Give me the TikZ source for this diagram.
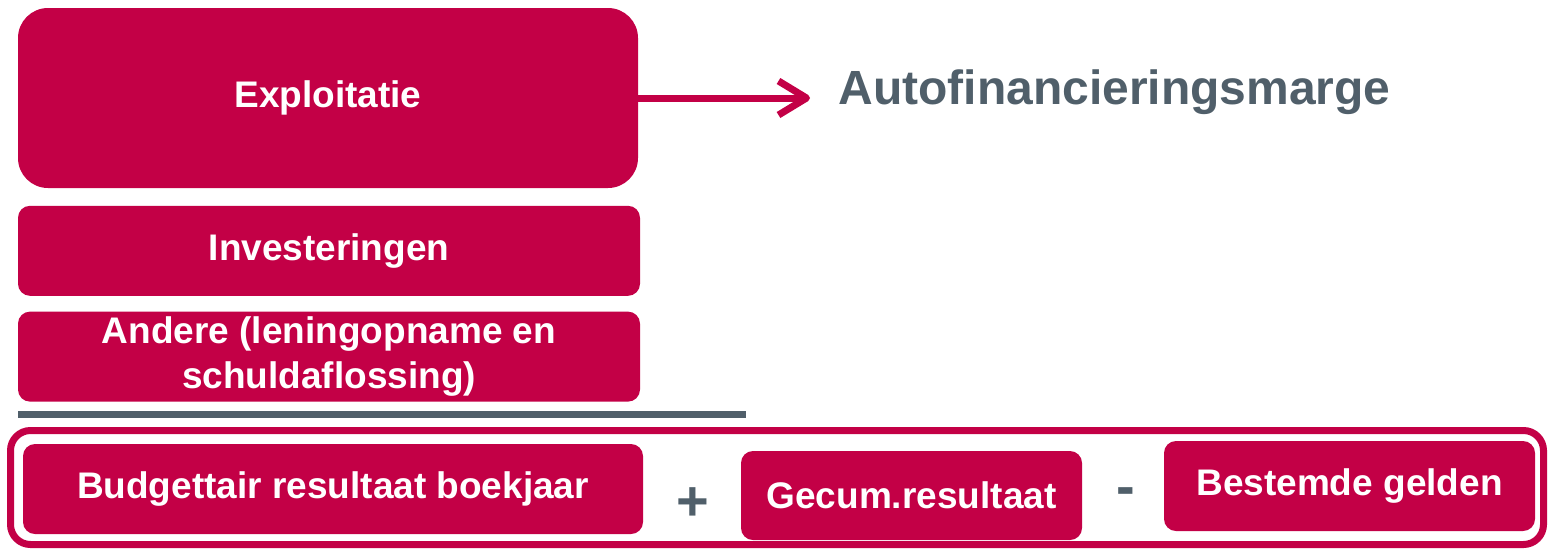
\documentclass[tikz,border=0pt]{standalone}
\usepackage{fontspec}
\setmainfont{Liberation Sans}
\usepackage{tikz}
\usetikzlibrary{positioning}
\usetikzlibrary{arrows.meta}

\definecolor{boxred}{RGB}{195,0,70}
\definecolor{slate}{RGB}{80,95,106}

\tikzset{
  redbox/.style={rectangle,fill=boxred,text=white,font=\fontsize{18.5}{22.5}\selectfont\bfseries,
    align=center,inner sep=0pt,rounded corners=6pt},
  signtext/.style={text=slate,font=\fontsize{28}{30}\selectfont\bfseries,inner sep=0pt}
}

\begin{document}
\begin{tikzpicture}[x=0.5pt,y=-0.5pt,node distance=8pt]
  \useasboundingbox (0,0) rectangle (1548,548);
  \node (expl) [redbox,minimum width=310pt,minimum height=90pt,rounded corners=15pt] at (328,98) {Exploitatie};
  \node (inv) [redbox,minimum width=311pt,minimum height=45pt,below=8.5pt of expl.south west,anchor=north west] {Investeringen};
  \node (andere) [redbox,minimum width=311pt,minimum height=45pt,below=7.5pt of inv] {Andere (leningopname en\\schuldaflossing)};
  \node (marge) [anchor=west,text=slate,font=\fontsize{24}{28}\selectfont\bfseries,inner sep=0pt] at (838,92) {Autofinancieringsmarge};
  \coordinate (tip) at (810,98);
  \coordinate (ruleL) at (18,414);
  \coordinate (ruleR) at (746,414);
  \draw[slate,line width=3.5pt] (ruleL) -- (ruleR);
  \draw[boxred,line width=3.5pt,rounded corners=10pt] (10.5,430.5) rectangle (1543.5,544.5);
  \node (budget) [redbox,minimum width=310pt,minimum height=45pt] at (333,489) {Budgettair resultaat boekjaar};
  \node (gecum) [redbox,minimum width=170.5pt,minimum height=44.5pt] at (911.5,495.5) {Gecum.resultaat};
  \node (bestemd) [redbox,minimum width=185.5pt,minimum height=45pt] at (1349.5,486) {Bestemde gelden};
  \node (plus) [signtext] at (693,504) {+};
  \node (minus) [signtext] at (1125.5,497) {-};
\path[boxred,line width=3.5pt,line cap=round,-{Straight Barb[length=14pt,width=17pt,line join=round]}]
	  (expl.east) edge (tip);
\end{tikzpicture}
\end{document}
